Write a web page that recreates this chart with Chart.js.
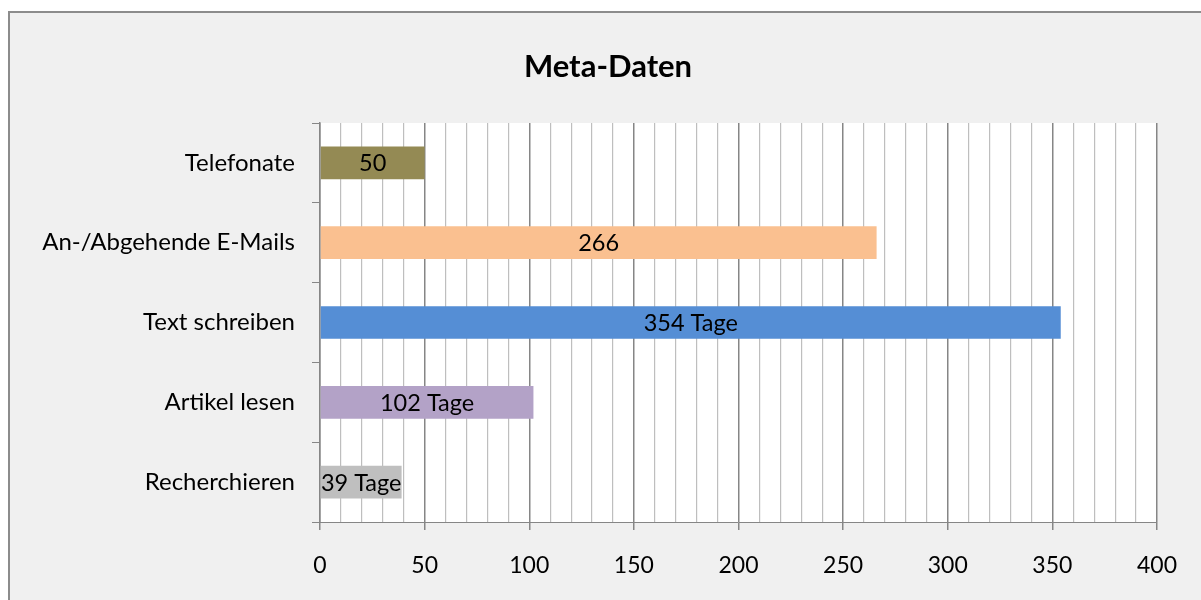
<!DOCTYPE html>
<html>
<head>
<meta charset="utf-8">
<script src="https://cdn.jsdelivr.net/npm/chart.js@4"></script>
<style>
html,body{margin:0;padding:0;background:#ffffff;}
#wrap{position:absolute;left:0;top:0;width:1201px;height:600px;}
</style>
</head>
<body>
<div id="wrap"><canvas id="c" width="1201" height="600"></canvas></div>
<script>
const categories = ["Telefonate", "An-/Abgehende E-Mails", "Text schreiben", "Artikel lesen", "Recherchieren"];
const values = [50, 266, 354, 102, 39];
const labelSuffixes = ["", "", " Tage", " Tage", " Tage"];
const barColors = ["#948a54", "#fac090", "#558ed5", "#b3a2c7", "#bfbfbf"];
const xMin = 0, xMax = 400, majorStep = 50, minorStep = 10;
const chartTitle = "Meta-Daten";

const FONT = "Lato, 'Open Sans', sans-serif";

const bgPlugin = {
  id: 'bg',
  beforeDraw(chart) {
    const ctx = chart.ctx;
    ctx.save();
    ctx.fillStyle = '#ffffff';
    ctx.fillRect(0, 0, chart.width, chart.height);
    ctx.fillStyle = '#f0f0f0';
    ctx.fillRect(9, 12, chart.width, chart.height);
    ctx.strokeStyle = '#8c8c8c';
    ctx.lineWidth = 2;
    ctx.beginPath();
    ctx.moveTo(9, chart.height + 5);
    ctx.lineTo(9, 12);
    ctx.lineTo(chart.width + 5, 12);
    ctx.stroke();
    const a = chart.chartArea;
    ctx.fillStyle = '#ffffff';
    ctx.fillRect(a.left, a.top, a.right - a.left, a.bottom - a.top);
    // chart title
    ctx.fillStyle = '#000000';
    ctx.font = "bold 31px " + FONT;
    ctx.textAlign = 'center';
    ctx.textBaseline = 'middle';
    ctx.fillText(chartTitle, 608, 67);
    ctx.restore();
  }
};

const valueLabels = {
  id: 'valueLabels',
  afterDatasetsDraw(chart) {
    const ctx = chart.ctx;
    const meta = chart.getDatasetMeta(0);
    ctx.save();
    ctx.font = "23.5px " + FONT;
    ctx.fillStyle = '#000000';
    ctx.textAlign = 'center';
    ctx.textBaseline = 'middle';
    meta.data.forEach((bar, i) => {
      const p = bar.getProps(['x', 'y', 'base'], true);
      const cx = (p.x + p.base) / 2;
      ctx.fillText(values[i] + labelSuffixes[i], cx, p.y + 1);
    });
    ctx.restore();
  }
};

new Chart(document.getElementById('c'), {
  type: 'bar',
  data: {
    labels: categories,
    datasets: [{
      data: values,
      backgroundColor: barColors,
      borderWidth: 0,
      barPercentage: 0.41,
      categoryPercentage: 1.0
    }]
  },
  options: {
    indexAxis: 'y',
    responsive: false,
    animation: false,
    layout: { padding: { left: 0, right: 44, top: 123, bottom: 0 } },
    plugins: {
      legend: { display: false },
      tooltip: { enabled: false },
      title: { display: false }
    },
    scales: {
      x: {
        type: 'linear',
        min: xMin,
        max: xMax,
        afterFit(scale) { scale.height = 78; },
        border: { display: true, color: '#868686', width: 1 },
        grid: {
          color: (c) => (c.tick && c.tick.value % majorStep === 0) ? '#868686' : '#bebebe',
          tickColor: (c) => (c.tick && c.tick.value % majorStep === 0) ? '#868686' : 'rgba(0,0,0,0)',
          lineWidth: (c) => (c.tick && c.tick.value % majorStep === 0) ? 1.5 : 1.2,
          tickLength: 8
        },
        ticks: {
          stepSize: minorStep,
          autoSkip: false,
          maxRotation: 0,
          padding: 22,
          color: '#000000',
          font: { family: FONT, size: 23 },
          callback: (v) => (v % majorStep === 0) ? String(v) : ''
        }
      },
      y: {
        type: 'category',
        afterFit(scale) { scale.width = 320; },
        border: { display: true, color: '#868686', width: 1.5 },
        grid: {
          offset: true,
          drawOnChartArea: false,
          color: '#868686',
          tickColor: '#868686',
          tickLength: 8
        },
        ticks: {
          padding: 17,
          color: '#000000',
          font: { family: FONT, size: 24 }
        }
      }
    }
  },
  plugins: [bgPlugin, valueLabels]
});
</script>
</body>
</html>
